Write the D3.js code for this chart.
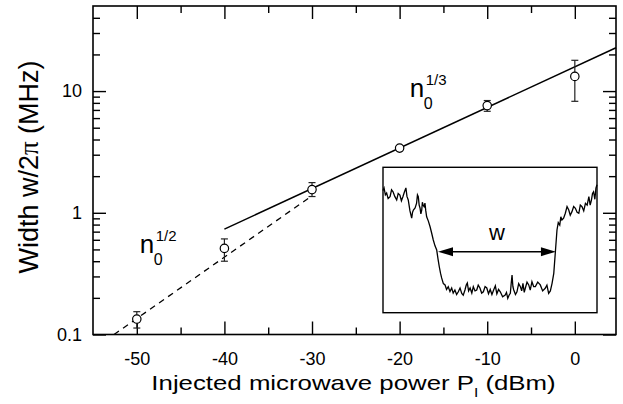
<!DOCTYPE html>
<html>
<head>
<meta charset="utf-8">
<script src="https://cdn.jsdelivr.net/npm/d3@7"></script>
<style>
  body { margin: 0; background: #fff; }
  svg { display: block; }
  text { font-family: "Liberation Sans", Arial, Helvetica, sans-serif; fill: #000; }
</style>
</head>
<body>
<div id="chart"></div>
<script>
// measured points: injected power (dBm) vs width w/2pi (MHz)
var powers   = [-50, -40, -30, -20, -10, 0];
var widths   = [0.134, 0.51, 1.55, 3.40, 7.6, 13.2];
var errLow   = [0.113, 0.40, 1.36, 3.26, 6.82, 8.24];
var errHigh  = [0.154, 0.61, 1.77, 3.56, 8.36, 17.9];

// the two power-law guides
var fitThird = [[-40, 0.734], [4.7, 22.7]];   // n0^(1/3), solid
var fitHalf  = [[-52.6, 0.1], [-30, 1.38]];   // n0^(1/2), dashed

// axis ticks
var xMajor = [-50, -40, -30, -20, -10, 0];
var xMinor = [-45, -35, -25, -15, -5];
var yMajor = [0.1, 1, 10];
var yMinor = [0.2, 0.3, 0.4, 0.5, 0.6, 0.7, 0.8, 0.9, 2, 3, 4, 5, 6, 7, 8, 9, 20, 30, 40];

// inset trace (relative units 0-100 across / up the inset box)
var trace = [[0.0,84],[0.5,85.8],[1.1,81],[1.7,82.3],[2.4,78.5],[3.3,79.8],[4.0,84.5],[4.7,83.2],[5.5,80],[6.4,77.5],
  [7.1,82],[7.9,80.9],[8.6,77],[9.3,79.8],[10.0,83],[10.7,85.8],[11.2,80],[11.8,77.5],[12.6,70],[13.4,65.1],
  [13.8,69],[14.2,70.6],[15.0,72],[15.7,75.4],[16.1,81],[16.5,79.8],[16.9,74],[17.3,72.0],[17.7,68],[18.1,70.6],
  [18.4,76],[18.7,74.1],[19.2,73],[19.6,75.4],[20.0,70],[20.4,66.0],[21.2,63],[22.0,59.1],[22.7,55],[23.5,50.0],
  [24.3,46],[25.1,43.1],[25.7,37],[26.3,31.6],[26.9,27],[27.4,23.9],[28.2,20],[29.0,19.1],[29.7,16],[30.5,17.9],
  [31.3,14.5],[32.1,17.0],[32.8,13.5],[33.6,15.6],[34.4,12.5],[35.2,14.4],[36.0,17],[36.8,13.3],[37.5,12],[38.3,15.6],
  [38.9,19],[39.4,20.4],[40.0,15],[40.7,17.0],[41.5,13.5],[42.2,17.9],[43.0,15],[43.8,15.6],[44.5,19],[45.3,17.0],
  [46.1,13.5],[46.9,14.4],[47.7,18],[48.5,17.0],[49.3,13],[50.1,16],[50.9,12.5],[51.7,15.6],[52.5,18.5],[53.2,13],
  [54.0,16],[54.8,14.4],[55.9,11],[57.1,12.2],[57.7,14],[58.3,9.9],[58.9,12],[59.5,13.3],[59.9,20],[60.3,25.9],
  [60.7,18],[61.1,15.6],[61.9,12.5],[62.6,14.4],[63.4,20],[64.2,17.9],[64.8,15],[65.4,20.2],[66.0,14],[66.5,16.8],
  [67.3,21],[68.1,19.1],[68.8,15.5],[69.6,21.3],[70.4,18],[71.2,17.9],[72.3,21],[73.5,19.1],[74.6,15],[75.8,16.8],
  [76.6,19],[77.4,13.3],[78.2,15],[79.0,20.2],[79.8,27.1],[80.5,40.9],[81.3,56.9],[81.9,62],[82.6,60.3],[83.1,66],
  [83.6,63.8],[84.4,65],[85.2,68.4],[86.0,73],[86.8,70.6],[87.5,67],[88.3,69.5],[89.1,73],[89.9,71.8],[90.7,69],
  [91.5,68.4],[92.2,74],[93.0,72.9],[93.8,70],[94.6,75.2],[95.4,74],[96.2,79.8],[96.8,74],[97.4,77.5],[97.9,82],
  [98.4,83.2],[99.0,78],[99.5,85.6],[100,88]];
var arrowSpan = [25.7, 80.8];
var arrowLevel = 42;

var w = 623, h = 404;
var pLeft = 93, pRight = 616, pTop = 6, pBottom = 334.5;

var svg = d3.select("#chart").append("svg")
    .attr("width", w)
    .attr("height", h);

var x = d3.scaleLinear().domain([-55, 4.7]).range([pLeft, pRight]);
var y = d3.scaleLog().domain([0.1, 50]).range([pBottom, pTop]);

function noDomain(g) { g.select(".domain").remove(); }

// major / minor ticks on all four sides, pointing inward
svg.append("g").attr("transform", "translate(0," + pBottom + ")")
    .call(d3.axisBottom(x).tickValues(xMajor).tickSize(-13).tickPadding(18)
      .tickFormat(function(d) { return String(d); }))
    .call(noDomain);
svg.append("g").attr("transform", "translate(0," + pBottom + ")")
    .call(d3.axisBottom(x).tickValues(xMinor).tickSize(-7).tickFormat(""))
    .call(noDomain);
svg.append("g").attr("transform", "translate(0," + pTop + ")")
    .call(d3.axisTop(x).tickValues(xMajor).tickSize(-13).tickFormat(""))
    .call(noDomain);
svg.append("g").attr("transform", "translate(0," + pTop + ")")
    .call(d3.axisTop(x).tickValues(xMinor).tickSize(-7).tickFormat(""))
    .call(noDomain);
svg.append("g").attr("transform", "translate(" + pLeft + ",0)")
    .call(d3.axisLeft(y).tickValues(yMajor).tickSize(-13).tickPadding(11)
      .tickFormat(function(d) { return String(d); }))
    .call(noDomain);
svg.append("g").attr("transform", "translate(" + pLeft + ",0)")
    .call(d3.axisLeft(y).tickValues(yMinor).tickSize(-7).tickFormat(""))
    .call(noDomain);
svg.append("g").attr("transform", "translate(" + pRight + ",0)")
    .call(d3.axisRight(y).tickValues(yMajor).tickSize(-13).tickFormat(""))
    .call(noDomain);
svg.append("g").attr("transform", "translate(" + pRight + ",0)")
    .call(d3.axisRight(y).tickValues(yMinor).tickSize(-7).tickFormat(""))
    .call(noDomain);

svg.selectAll(".tick line").attr("stroke", "#000").attr("stroke-width", 1.4);
svg.selectAll(".tick text")
    .style("font-family", '"Liberation Sans", Arial, sans-serif')
    .style("font-size", "18px")
    .attr("fill", "#000");

// frame
svg.append("rect")
    .attr("x", pLeft).attr("y", pTop)
    .attr("width", pRight - pLeft).attr("height", pBottom - pTop)
    .attr("fill", "none").attr("stroke", "#000").attr("stroke-width", 1.6);

var line = d3.line()
    .x(function(d) { return x(d[0]); })
    .y(function(d) { return y(d[1]); });

svg.append("path").datum(fitHalf)
    .attr("d", line).attr("fill", "none")
    .attr("stroke", "#000").attr("stroke-width", 1.3)
    .attr("stroke-dasharray", "6,5");

svg.append("path").datum(fitThird)
    .attr("d", line).attr("fill", "none")
    .attr("stroke", "#000").attr("stroke-width", 1.5);

// error bars then markers
var pts = powers.map(function(p, i) {
  return { p: p, v: widths[i], lo: errLow[i], hi: errHigh[i] };
});

var eb = svg.selectAll("g.err").data(pts).enter().append("g").attr("class", "err")
    .attr("stroke", "#222").attr("stroke-width", 1.2);
eb.append("line")
    .attr("x1", function(d) { return x(d.p); }).attr("x2", function(d) { return x(d.p); })
    .attr("y1", function(d) { return y(d.lo); }).attr("y2", function(d) { return y(d.hi); });
eb.append("line")
    .attr("x1", function(d) { return x(d.p) - 3.5; }).attr("x2", function(d) { return x(d.p) + 3.5; })
    .attr("y1", function(d) { return y(d.lo); }).attr("y2", function(d) { return y(d.lo); });
eb.append("line")
    .attr("x1", function(d) { return x(d.p) - 3.5; }).attr("x2", function(d) { return x(d.p) + 3.5; })
    .attr("y1", function(d) { return y(d.hi); }).attr("y2", function(d) { return y(d.hi); });

svg.selectAll("circle.pt").data(pts).enter().append("circle")
    .attr("class", "pt")
    .attr("cx", function(d) { return x(d.p); })
    .attr("cy", function(d) { return y(d.v); })
    .attr("r", 4.2)
    .attr("fill", "#fff").attr("stroke", "#000").attr("stroke-width", 1.2);

// n0^(1/3) and n0^(1/2) labels
function powerLabel(p, v, exp) {
  var g = svg.append("g").attr("transform", "translate(" + x(p) + "," + y(v) + ")");
  g.append("text").attr("x", 0).attr("y", 0).style("font-size", "26px").text("n");
  g.append("text").attr("x", 14).attr("y", 12).style("font-size", "16px").text("0");
  g.append("text").attr("x", 16).attr("y", -12).style("font-size", "15px").text(exp);
}
powerLabel(-18.84, 8.93, "1/3");
powerLabel(-49.66, 0.468, "1/2");

// axis titles
var xt = svg.append("g").attr("transform", "translate(353.5,390) scale(1.29,1)");
var xtt = xt.append("text").attr("text-anchor", "middle").style("font-size", "20px");
xtt.append("tspan").text("Injected microwave power P");
xtt.append("tspan").attr("dy", 7).style("font-size", "12px").text("I");
xtt.append("tspan").attr("dy", -7).text(" (dBm)");

var yt = svg.append("text")
    .attr("transform", "translate(38,167) rotate(-90)")
    .attr("text-anchor", "middle")
    .style("font-size", "27px");
yt.append("tspan").text("Width w/2");
yt.append("tspan").style("font-family", '"Liberation Serif", "DejaVu Serif", serif').text("π");
yt.append("tspan").text(" (MHz)");

// inset: swept line shape with its width w
var ix = d3.scaleLinear().domain([0, 100]).range([383, 597]);
var iy = d3.scaleLinear().domain([0, 100]).range([312.7, 167.3]);

svg.append("rect")
    .attr("x", ix(0)).attr("y", iy(100))
    .attr("width", ix(100) - ix(0)).attr("height", iy(0) - iy(100))
    .attr("fill", "#fff").attr("stroke", "#000").attr("stroke-width", 1.4);

svg.append("path").datum(trace)
    .attr("d", d3.line().x(function(d) { return ix(d[0]); }).y(function(d) { return iy(d[1]); }))
    .attr("fill", "none").attr("stroke", "#000").attr("stroke-width", 1.3);

var ay = iy(arrowLevel), ax0 = ix(arrowSpan[0]), ax1 = ix(arrowSpan[1]);
svg.append("line")
    .attr("x1", ax0 + 10).attr("x2", ax1 - 10).attr("y1", ay).attr("y2", ay)
    .attr("stroke", "#000").attr("stroke-width", 1.5);
svg.append("path")
    .attr("d", "M" + ax0 + "," + ay + "L" + (ax0 + 15) + "," + (ay - 4.5) + "L" + (ax0 + 15) + "," + (ay + 4.5) + "Z")
    .attr("fill", "#000");
svg.append("path")
    .attr("d", "M" + ax1 + "," + ay + "L" + (ax1 - 15) + "," + (ay - 4.5) + "L" + (ax1 - 15) + "," + (ay + 4.5) + "Z")
    .attr("fill", "#000");
svg.append("text")
    .attr("x", ix((arrowSpan[0] + arrowSpan[1]) / 2)).attr("y", iy(arrowLevel) - 12)
    .attr("text-anchor", "middle")
    .style("font-size", "22px")
    .text("w");
</script>
</body>
</html>
